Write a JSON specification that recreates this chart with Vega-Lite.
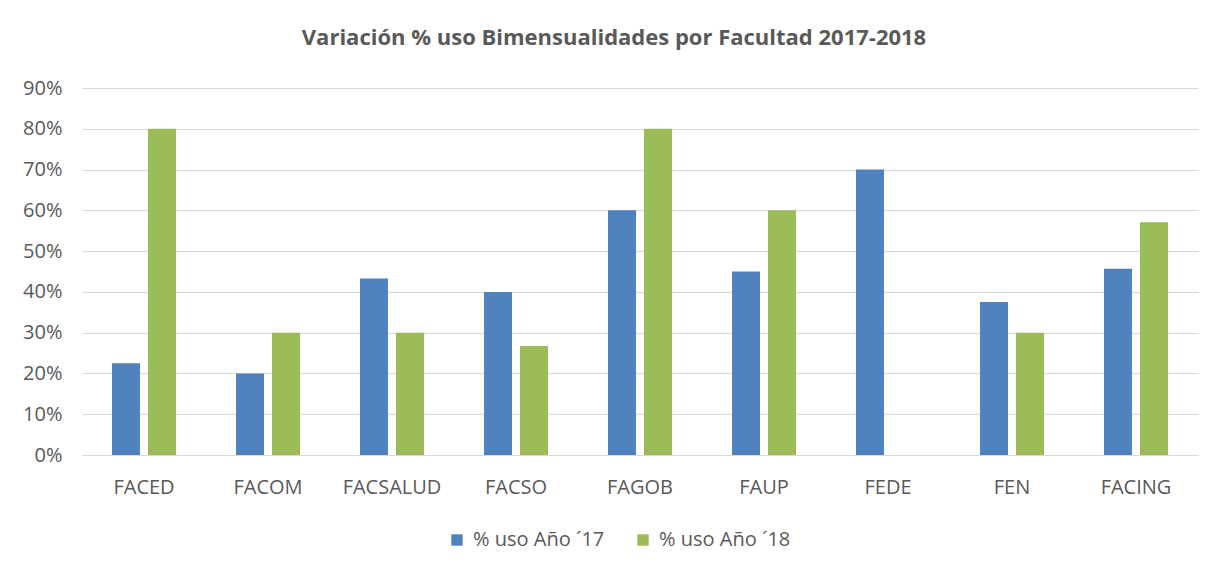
{
  "$schema": "https://vega.github.io/schema/vega-lite/v6.json",
  "width": 1116,
  "height": 367,
  "autosize": {"type": "none"},
  "padding": {"left": 82, "top": 88, "right": 30, "bottom": 122},
  "background": "white",
  "title": {
    "text": "Variación % uso Bimensualidades por Facultad 2017-2018",
    "font": "Open Sans",
    "fontSize": 22,
    "fontWeight": "bold",
    "color": "#595959",
    "anchor": "middle",
    "dx": -26,
    "offset": 28
  },
  "data": {
    "values": [
      {"fac": "FACED", "serie": "% uso Año ´17", "v": 0.225},
      {"fac": "FACED", "serie": "% uso Año ´18", "v": 0.80},
      {"fac": "FACOM", "serie": "% uso Año ´17", "v": 0.20},
      {"fac": "FACOM", "serie": "% uso Año ´18", "v": 0.30},
      {"fac": "FACSALUD", "serie": "% uso Año ´17", "v": 0.433},
      {"fac": "FACSALUD", "serie": "% uso Año ´18", "v": 0.30},
      {"fac": "FACSO", "serie": "% uso Año ´17", "v": 0.40},
      {"fac": "FACSO", "serie": "% uso Año ´18", "v": 0.267},
      {"fac": "FAGOB", "serie": "% uso Año ´17", "v": 0.60},
      {"fac": "FAGOB", "serie": "% uso Año ´18", "v": 0.80},
      {"fac": "FAUP", "serie": "% uso Año ´17", "v": 0.45},
      {"fac": "FAUP", "serie": "% uso Año ´18", "v": 0.60},
      {"fac": "FEDE", "serie": "% uso Año ´17", "v": 0.70},
      {"fac": "FEDE", "serie": "% uso Año ´18", "v": 0},
      {"fac": "FEN", "serie": "% uso Año ´17", "v": 0.375},
      {"fac": "FEN", "serie": "% uso Año ´18", "v": 0.30},
      {"fac": "FACING", "serie": "% uso Año ´17", "v": 0.457},
      {"fac": "FACING", "serie": "% uso Año ´18", "v": 0.571}
    ]
  },
  "mark": {"type": "bar"},
  "encoding": {
    "x": {
      "field": "fac",
      "type": "nominal",
      "sort": null,
      "scale": {"paddingInner": 0, "paddingOuter": 0},
      "axis": {
        "title": null,
        "labelAngle": 0,
        "ticks": false,
        "domain": true,
        "domainColor": "#d9d9d9",
        "domainWidth": 1,
        "labelPadding": 22,
        "labelFont": "Open Sans",
        "labelFontSize": 20,
        "labelColor": "#595959"
      }
    },
    "xOffset": {
      "field": "serie",
      "type": "nominal",
      "scale": {"paddingInner": 0.222, "paddingOuter": 0.833}
    },
    "y": {
      "field": "v",
      "type": "quantitative",
      "scale": {"domain": [0, 0.9], "nice": false},
      "axis": {
        "title": null,
        "format": ".0%",
        "values": [0, 0.1, 0.2, 0.3, 0.4, 0.5, 0.6, 0.7, 0.8, 0.9],
        "ticks": false,
        "domain": false,
        "gridColor": "#d9d9d9",
        "gridWidth": 1,
        "labelPadding": 20,
        "labelFont": "Open Sans",
        "labelFontSize": 20,
        "labelColor": "#595959"
      }
    },
    "color": {
      "field": "serie",
      "type": "nominal",
      "scale": {"range": ["#4F81BD", "#9BBB59"]},
      "legend": {
        "title": null,
        "orient": "none",
        "legendX": 365,
        "legendY": 442,
        "direction": "horizontal",
        "symbolType": "square",
        "symbolSize": 130,
        "symbolStrokeWidth": 0,
        "labelFont": "Open Sans",
        "labelFontSize": 20,
        "labelColor": "#595959",
        "labelOffset": 6,
        "columnPadding": 28
      }
    }
  },
  "config": {
    "view": {"stroke": null}
  }
}
